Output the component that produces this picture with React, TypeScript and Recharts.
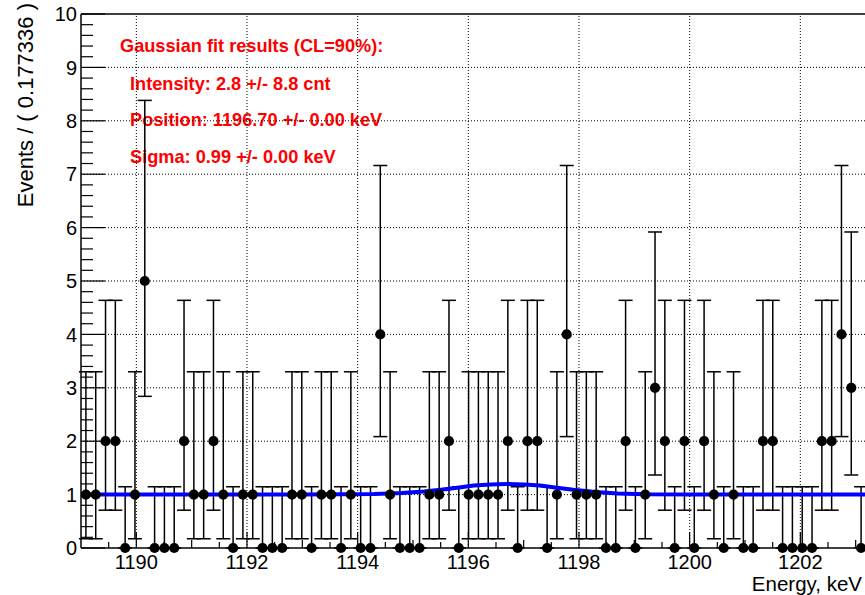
import React from 'react';
import { ComposedChart, Scatter, Line, XAxis, YAxis, ErrorBar, ReferenceLine } from 'recharts';

// Histogram binning (from the axis title: bin width 0.177336 keV)
const binWidth = 0.177336;
const xMin = 1189.0;
const nBins = 80;
const xMax = xMin + nBins * binWidth;

// Event counts per bin
const counts = [
  1, 1, 2, 2, 0, 1, 5, 0, 0, 0,
  2, 1, 1, 2, 1, 0, 1, 1, 0, 0,
  0, 1, 1, 0, 1, 1, 0, 1, 0, 0,
  4, 1, 0, 0, 0, 1, 1, 2, 0, 1,
  1, 1, 1, 2, 0, 2, 2, 0, 1, 4,
  1, 1, 1, 0, 0, 2, 0, 1, 3, 2,
  0, 2, 0, 2, 1, 0, 1, 0, 0, 2,
  2, 0, 0, 0, 0, 2, 2, 4, 3, 0,
];

// Asymmetric (Poisson) error sizes by count
const errLowByCount = [0, 0.827, 1.292, 1.633, 1.914, 2.16];
const errHighByCount = [1.147, 2.3, 2.638, 2.918, 3.163, 3.382];

// Fitted curve
const fitEnergy = [1189.0, 1193.0, 1193.7, 1194.3, 1194.8, 1195.2, 1195.5, 1195.8, 1196.1, 1196.4, 1196.7, 1197.0, 1197.3, 1197.6, 1197.9, 1198.3, 1198.7, 1199.2, 1200.0, 1203.18];
const fitValue = [1.0, 1.0, 1.005, 1.01, 1.03, 1.06, 1.09, 1.13, 1.17, 1.19, 1.2, 1.19, 1.17, 1.13, 1.09, 1.05, 1.02, 1.005, 1.0, 1.0];

// Axis ticks
const xMajorTicks = [1190, 1192, 1194, 1196, 1198, 1200, 1202];
const xTicks: number[] = [];
for (let v = 1189.5; v <= 1203.01; v += 0.5) xTicks.push(Math.round(v * 10) / 10);
const yMajorTicks = [0, 1, 2, 3, 4, 5, 6, 7, 8, 9, 10];
const yTicks: number[] = [];
for (let i = 0; i <= 50; i++) yTicks.push(Math.round(i * 2) / 10);
const yGrid = [1, 2, 3, 4, 5, 6, 7, 8, 9];

const fitLines = [
  'Gaussian fit results (CL=90%):',
  'Intensity: 2.8 +/- 8.8 cnt',
  'Position: 1196.70 +/- 0.00 keV',
  'Sigma: 0.99 +/- 0.00 keV',
];

const points = counts.map((c, i) => ({
  x: xMin + (i + 0.5) * binWidth,
  y: c,
  err: [errLowByCount[c], errHighByCount[c]],
}));
const fitData = fitEnergy.map((e, i) => ({ x: e, y: fitValue[i] }));

const FONT = '"Liberation Sans", Arial, Helvetica, sans-serif';

const XTick = (props: any) => {
  const { x, y, payload } = props;
  const v = payload.value;
  const major = xMajorTicks.includes(v);
  const isInt = Math.abs(v - Math.round(v)) < 1e-6;
  const len = major ? 16 : isInt ? 8 : 6;
  return (
    <g>
      <line x1={x} x2={x} y1={y} y2={y - len} stroke="#000" strokeWidth={1.2} />
      {major && (
        <text x={x} y={y + 20.5} textAnchor="middle" fontSize={20} fontFamily={FONT} fill="#000">
          {v}
        </text>
      )}
    </g>
  );
};

const YTick = (props: any) => {
  const { x, y, payload } = props;
  const v = payload.value;
  const major = yMajorTicks.some((m) => Math.abs(m - v) < 1e-6);
  return (
    <g>
      <line x1={x} x2={x + (major ? 24 : 12)} y1={y} y2={y} stroke="#000" strokeWidth={1.2} />
      {major && (
        <text x={x - 4} y={y} dy="0.36em" textAnchor="end" fontSize={20} fontFamily={FONT} fill="#000">
          {Math.round(v)}
        </text>
      )}
    </g>
  );
};

const Dot = (props: any) => {
  const { cx, cy } = props;
  return <circle cx={cx} cy={cy} r={5.1} fill="#000" />;
};

export default function App() {
  return (
    <div style={{ position: 'absolute', left: 0, top: 0, width: 865, height: 595, overflow: 'hidden', background: '#fff' }}>
      <svg width={865} height={595} style={{ position: 'absolute', left: 0, top: 0 }}>
        {fitLines.map((t, i) => (
          <text key={i} x={i === 0 ? 120 : 130} y={[52, 90, 126, 163][i]} fontSize={18.2} fontWeight="bold" fontFamily={FONT} fill="#ff0000">
            {t}
          </text>
        ))}
        <text transform="translate(33,3) rotate(-90)" textAnchor="end" fontSize={22} fontFamily={FONT} fill="#000">
          Events / ( 0.177336 )
        </text>
        <text x={862} y={591} textAnchor="end" fontSize={20.5} fontFamily={FONT} fill="#000">
          Energy, keV
        </text>
      </svg>
      <div style={{ position: 'absolute', left: 0, top: 0 }}>
        <ComposedChart width={866} height={595} margin={{ top: 14, right: 0, bottom: 0, left: 0 }}>
          <XAxis
            type="number"
            dataKey="x"
            domain={[xMin, xMax]}
            ticks={xTicks}
            interval={0}
            tickLine={false}
            tickSize={0}
            tickMargin={0}
            height={47}
            axisLine={{ stroke: '#000', strokeWidth: 1.5 }}
            tick={<XTick />}
          />
          <YAxis
            type="number"
            dataKey="y"
            domain={[0, 10]}
            ticks={yTicks}
            interval={0}
            tickLine={false}
            tickSize={0}
            tickMargin={0}
            width={81}
            axisLine={{ stroke: '#000', strokeWidth: 1.5 }}
            tick={<YTick />}
          />
          {xMajorTicks.map((v) => (
            <ReferenceLine key={'gx' + v} x={v} stroke="#000" strokeWidth={1} strokeDasharray="1 2" />
          ))}
          {yGrid.map((v) => (
            <ReferenceLine key={'gy' + v} y={v} stroke="#000" strokeWidth={1} strokeDasharray="1 2" />
          ))}
          <ReferenceLine y={10} stroke="#000" strokeWidth={1.5} />
          <ReferenceLine x={xMax} stroke="#000" strokeWidth={1.5} />
          <Scatter data={points} dataKey="y" fill="#000" shape={<Dot />} isAnimationActive={false}>
            <ErrorBar dataKey="err" direction="y" width={7} stroke="#000" strokeWidth={1.5} isAnimationActive={false} />
          </Scatter>
          <Line data={fitData} dataKey="y" type="linear" stroke="#0000ff" strokeWidth={4} dot={false} activeDot={false} isAnimationActive={false} />
        </ComposedChart>
      </div>
    </div>
  );
}
